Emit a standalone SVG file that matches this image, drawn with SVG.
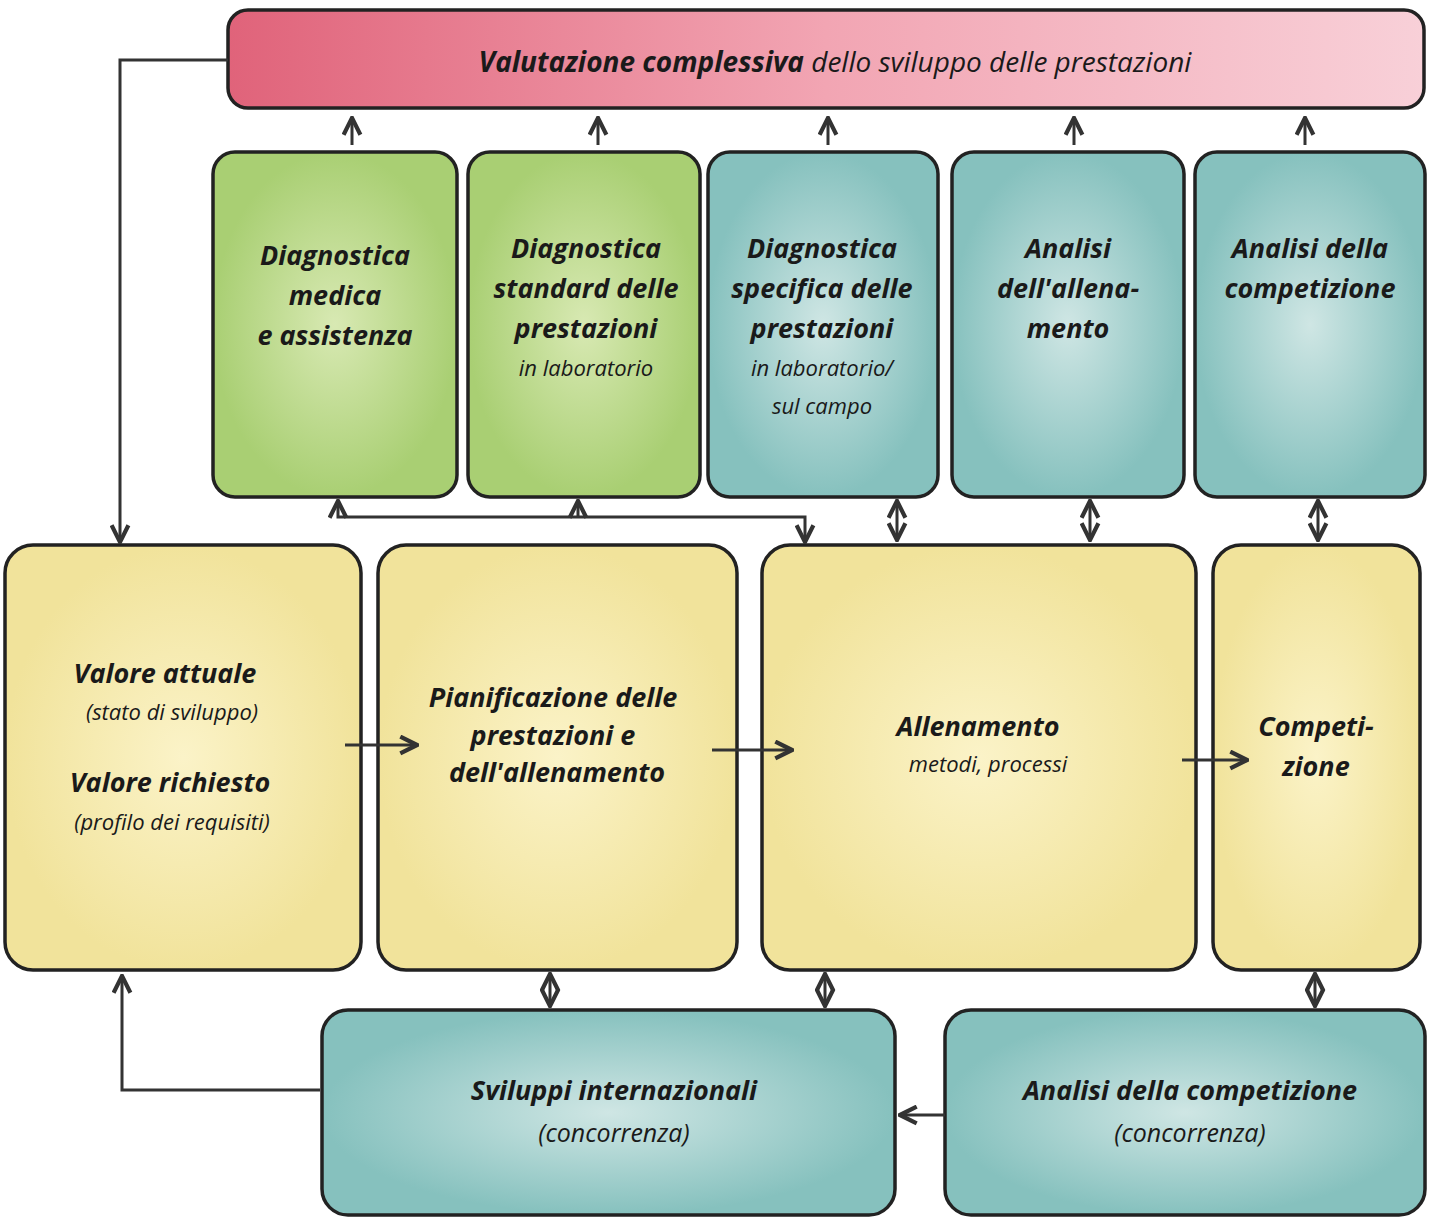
<svg xmlns="http://www.w3.org/2000/svg" width="1440" height="1220" viewBox="0 0 1440 1220">
<defs>
<style>
.box{stroke:#222;stroke-width:3.5}
.t{font-family:"Open Sans","Noto Sans",sans-serif;font-style:italic;fill:#1a1a1a;text-anchor:middle}
.b{font-weight:700;font-size:27px}
.s{font-size:22px}
.c{fill:none;stroke:#333;stroke-width:3}
</style>
<marker id="a" viewBox="0 0 10 10" refX="8" refY="5" markerWidth="7" markerHeight="7" orient="auto-start-reverse"><path d="M1,1 L9,5 L1,9" fill="none" stroke="#333" stroke-width="2"/></marker>
<linearGradient id="red" x1="0" x2="1"><stop offset="0" stop-color="#e0637a"/><stop offset="0.5" stop-color="#f2a5b3"/><stop offset="1" stop-color="#f8d0d8"/></linearGradient>
<radialGradient id="green"><stop offset="0" stop-color="#d8e9b3"/><stop offset="1" stop-color="#a9cf73"/></radialGradient>
<radialGradient id="teal"><stop offset="0" stop-color="#cfe6e4"/><stop offset="1" stop-color="#86c1be"/></radialGradient>
<radialGradient id="yel"><stop offset="0" stop-color="#fbf3c8"/><stop offset="1" stop-color="#f1e39b"/></radialGradient>
</defs>
<rect width="1440" height="1220" fill="#fff"/>
<g id="top"><rect class="box" x="228" y="10" width="1196" height="98" rx="20" fill="url(#red)"/>
<text class="t" x="835" y="72" font-size="28"><tspan font-weight="700">Valutazione complessiva</tspan> dello sviluppo delle prestazioni</text></g>
<g id="n1"><rect class="box" x="213" y="152" width="244" height="345" rx="22" fill="url(#green)"/>
<text class="t b" x="335" y="265">Diagnostica</text><text class="t b" x="335" y="305">medica</text><text class="t b" x="335" y="345">e assistenza</text></g>
<g id="n2"><rect class="box" x="468" y="152" width="232" height="345" rx="22" fill="url(#green)"/>
<text class="t b" x="586" y="258">Diagnostica</text><text class="t b" x="586" y="298">standard delle</text><text class="t b" x="586" y="338">prestazioni</text><text class="t s" x="586" y="376">in laboratorio</text></g>
<g id="n3"><rect class="box" x="708" y="152" width="230" height="345" rx="22" fill="url(#teal)"/>
<text class="t b" x="822" y="258">Diagnostica</text><text class="t b" x="822" y="298">specifica delle</text><text class="t b" x="822" y="338">prestazioni</text><text class="t s" x="822" y="376">in laboratorio/</text><text class="t s" x="822" y="414">sul campo</text></g>
<g id="n4"><rect class="box" x="952" y="152" width="232" height="345" rx="22" fill="url(#teal)"/>
<text class="t b" x="1068" y="258">Analisi</text><text class="t b" x="1068" y="298">dell'allena-</text><text class="t b" x="1068" y="338">mento</text></g>
<g id="n5"><rect class="box" x="1195" y="152" width="230" height="345" rx="22" fill="url(#teal)"/>
<text class="t b" x="1310" y="258">Analisi della</text><text class="t b" x="1310" y="298">competizione</text></g>
<g id="nA"><rect class="box" x="5" y="545" width="356" height="425" rx="28" fill="url(#yel)"/>
<text class="t b" x="165" y="683">Valore  attuale</text><text class="t s" x="172" y="720">(stato di sviluppo)</text><text class="t b" x="170" y="792">Valore richiesto</text><text class="t s" x="172" y="830">(profilo dei requisiti)</text></g>
<g id="nB"><rect class="box" x="378" y="545" width="359" height="425" rx="28" fill="url(#yel)"/>
<text class="t b" x="553" y="707">Pianificazione delle</text><text class="t b" x="553" y="745">prestazioni e</text><text class="t b" x="557" y="782">dell'allenamento</text></g>
<g id="nC"><rect class="box" x="762" y="545" width="434" height="425" rx="28" fill="url(#yel)"/>
<text class="t b" x="978" y="736">Allenamento</text><text class="t s" x="988" y="772">metodi, processi</text></g>
<g id="nD"><rect class="box" x="1213" y="545" width="207" height="425" rx="28" fill="url(#yel)"/>
<text class="t b" x="1316" y="736">Competi-</text><text class="t b" x="1316" y="776">zione</text></g>
<g id="nE"><rect class="box" x="322" y="1010" width="573" height="205" rx="26" fill="url(#teal)"/>
<text class="t b" x="614" y="1100">Sviluppi internazionali</text><text class="t" x="614" y="1142" font-size="25">(concorrenza)</text></g>
<g id="nF"><rect class="box" x="945" y="1010" width="480" height="205" rx="26" fill="url(#teal)"/>
<text class="t b" x="1190" y="1100">Analisi della competizione</text><text class="t" x="1190" y="1142" font-size="25">(concorrenza)</text></g>
<g id="connectors">
<path class="c" d="M352 145V120" marker-end="url(#a)"/>
<path class="c" d="M598 145V120" marker-end="url(#a)"/>
<path class="c" d="M828 145V120" marker-end="url(#a)"/>
<path class="c" d="M1074 145V120" marker-end="url(#a)"/>
<path class="c" d="M1305 145V120" marker-end="url(#a)"/>
<path class="c" d="M228 60H120V540" marker-end="url(#a)"/>
<path class="c" d="M320 1090H122V978" marker-end="url(#a)"/>
<path class="c" d="M345 745H415" marker-end="url(#a)"/>
<path class="c" d="M712 750H790" marker-end="url(#a)"/>
<path class="c" d="M1182 760H1245" marker-end="url(#a)"/>
<path class="c" d="M945 1115H902" marker-end="url(#a)"/>
<path class="c" d="M897 503V538" marker-start="url(#a)" marker-end="url(#a)"/>
<path class="c" d="M1090 503V538" marker-start="url(#a)" marker-end="url(#a)"/>
<path class="c" d="M1318 503V538" marker-start="url(#a)" marker-end="url(#a)"/>
<path class="c" d="M550 976V1004" marker-start="url(#a)" marker-end="url(#a)"/>
<path class="c" d="M825 976V1004" marker-start="url(#a)" marker-end="url(#a)"/>
<path class="c" d="M1315 976V1004" marker-start="url(#a)" marker-end="url(#a)"/>
<path class="c" d="M338 503V517H805V540" marker-start="url(#a)" marker-end="url(#a)"/>
<path class="c" d="M578 517V503" marker-end="url(#a)"/>
</g>
</svg>
